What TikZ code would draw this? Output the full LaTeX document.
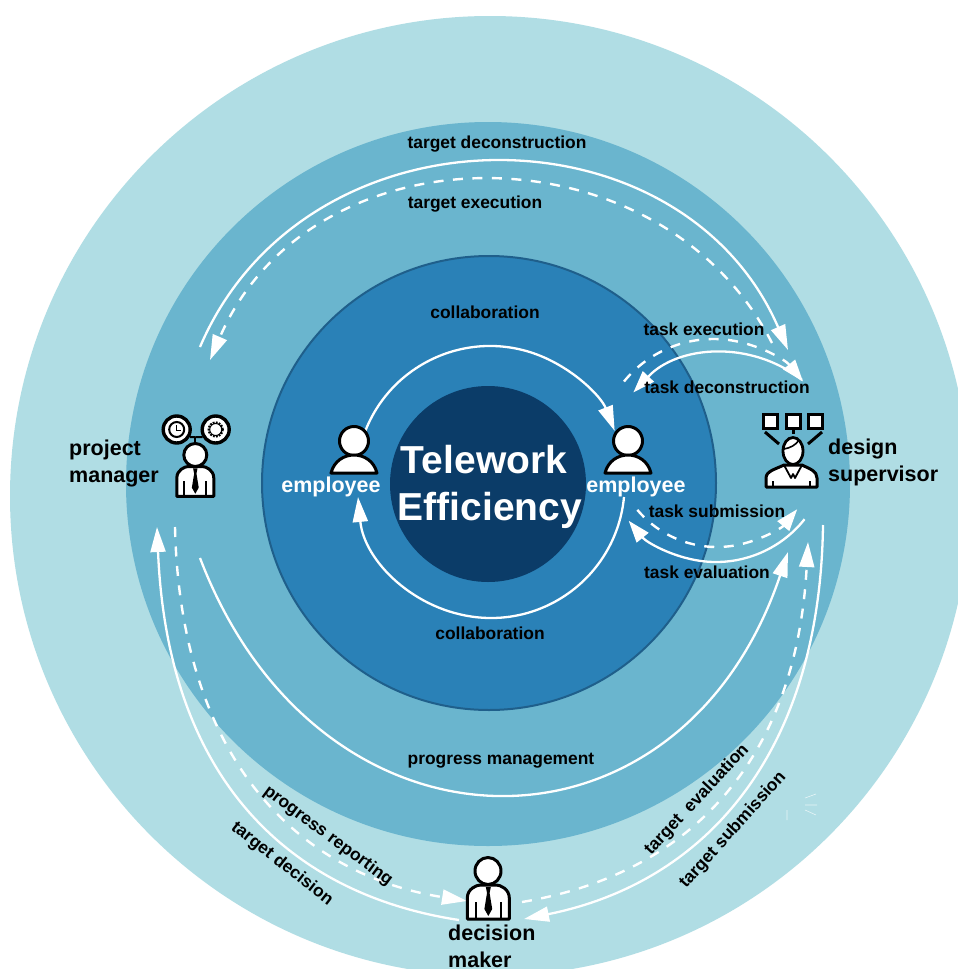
\documentclass[tikz,border=0pt]{standalone}
\usepackage{fontspec}
\setmainfont{Liberation Sans}
\usetikzlibrary{arrows.meta,shapes.geometric}
\definecolor{ringa}{HTML}{B0DDE4}
\definecolor{ringb}{HTML}{6AB5CE}
\definecolor{ringc}{HTML}{2A81B7}
\definecolor{ringedge}{HTML}{1F5F8B}
\definecolor{ringd}{HTML}{0B3C68}
\tikzset{
  solidflow/.style={draw=white,line width=2.3pt,-{Triangle[length=25pt,width=15pt,fill=white]}},
  dashflow/.style={draw=white,line width=2.4pt,dash pattern=on 10pt off 9.5pt,-{Triangle[length=25pt,width=15pt,fill=white]}},
  dashshort/.style={draw=white,line width=2.4pt,dash pattern=on 10pt off 9.5pt,-{Triangle[length=22pt,width=15pt,fill=white]}},
  solidshort/.style={draw=white,line width=2.3pt,-{Triangle[length=22pt,width=15pt,fill=white]}},
  smalllabel/.style={font=\bfseries\fontsize{17.4}{20}\selectfont,text=black,inner sep=0pt},
  rolelabel/.style={font=\bfseries\fontsize{21.5}{27}\selectfont,text=black,inner sep=0pt,align=left},
  whitelabel/.style={font=\bfseries\fontsize{21.5}{27}\selectfont,text=white,inner sep=0pt},
  titlelabel/.style={font=\bfseries\fontsize{39}{46}\selectfont,text=white,inner sep=0pt},
  iconfill/.style={draw=black,fill=white,line width=3pt,line join=round},
  iconstroke/.style={draw=black,line width=3pt},
  sparkle/.style={draw=white,line width=0.6pt,opacity=0.7},
}
% name, cx, cy, R, start angle, end angle, style
\newcommand{\ringarc}[7]{%
  \coordinate (#1) at ({#2+#4*cos(#5)},{#3-#4*sin(#5)});
  \draw[#7] (#1) arc[start angle=#5,end angle=#6,radius=#4pt];
}
\newcommand{\employeeicon}[3]{% name, x, y of head centre
  \begin{scope}[shift={(#2,#3)}]
    \node[circle,iconfill,minimum size=29pt,inner sep=0pt] (#1) at (0,0) {};
    \draw[iconfill] (-23,32) .. controls (-20,20) and (-10,14) .. (0,14) .. controls (10,14) and (20,20) .. (23,32) -- cycle;
  \end{scope}
}
\newcommand{\suitbody}{%
  \draw[iconfill] (-21,34) -- (-21,13) .. controls (-21,4) and (-12,0) .. (-8,0) -- (8,0) .. controls (12,0) and (21,4) .. (21,13) -- (21,34) -- cycle;
  \fill[black] (-2.5,2) -- (2.5,2) -- (1.3,8) -- (3.9,24) -- (0,31) -- (-3.9,24) -- (-1.3,8) -- cycle;
  \draw[black,line width=2pt] (-12.5,17) -- (-12.5,34) (12.5,17) -- (12.5,34);
}
\begin{document}
\begin{tikzpicture}[x=1pt,y=-1pt]
\useasboundingbox (0,0) rectangle (958,969);
\fill[white] (0,0) rectangle (958,969);
\begin{scope}
\clip (0,0) rectangle (958,969);
\fill[ringa] (490,496) circle[radius=480pt];
\end{scope}
\fill[ringb] (488,484) circle[radius=362pt];
\draw[ringedge,line width=2pt,fill=ringc] (489,483) circle[radius=227pt];
\fill[ringd] (488,484) circle[radius=98pt];

% faint marks in the outer ring
\coordinate (sp0) at (805,798); \coordinate (sp1) at (816,794);
\coordinate (sp2) at (805,805); \coordinate (sp3) at (817,805);
\coordinate (sp4) at (805,810); \coordinate (sp5) at (816,815);
\coordinate (sp6) at (787,810); \coordinate (sp7) at (787,820);
\draw[sparkle] (sp0) -- (sp1) (sp2) -- (sp3) (sp4) -- (sp5) (sp6) -- (sp7);

% target deconstruction
\coordinate (tdA) at (200,347); \coordinate (tdB) at (788,350);
\draw[solidflow] (tdA) .. controls (305,101) and (680,101) .. (tdB);
% target execution
\coordinate (teA) at (772,343); \coordinate (teB) at (210,360);
\draw[dashflow] (teA) .. controls (660,124) and (312,124) .. (teB);
% progress management
\coordinate (pmS) at (200,558); \coordinate (pmE) at (788,552);
\draw[solidflow] (pmS) .. controls (320,872) and (680,873) .. (pmE);
% target decision
\coordinate (tdS) at (459,920); \coordinate (tdE) at (157,527);
\draw[solidflow] (tdS) .. controls (300,896) and (168,790) .. (tdE);
% progress reporting
\coordinate (prS) at (175,527); \coordinate (prE) at (467,901);
\draw[dashflow] (prS) .. controls (180,750) and (290,873) .. (prE);
% target submission
\coordinate (tsS) at (823,525); \coordinate (tsE) at (524,919);
\draw[solidflow] (tsS) .. controls (820,755) and (704,883) .. (tsE);
% target evaluation
\coordinate (tvS) at (522,902); \coordinate (tvE) at (808,542);
\draw[dashflow] (tvS) .. controls (700,872) and (797,750) .. (tvE);
% task arcs
\ringarc{txA}{713.5}{454.5}{115.5}{140.8}{39.2}{dashshort}
\ringarc{tcA}{724.5}{478}{125}{51.7}{136.8}{solidshort}
\ringarc{tbA}{717}{443}{104}{220}{320.5}{dashshort}
\ringarc{tvA}{716}{449}{113}{321.6}{219.4}{solidshort}
% collaboration arcs
\ringarc{coA}{490}{480}{134}{158.5}{21.5}{solidflow}
\ringarc{coB}{491}{484.4}{133.6}{-5.4}{-174.6}{solidflow}

% labels
\node[smalllabel] (l1) at (497,144) {target deconstruction};
\node[smalllabel] (l2) at (475,204) {target execution};
\node[smalllabel] (l3) at (485,312) {collaboration};
\node[smalllabel] (l4) at (490,633) {collaboration};
\node[smalllabel] (l5) at (704,329) {task execution};
\node[smalllabel] (l6) at (727,387) {task deconstruction};
\node[smalllabel] (l7) at (717,511) {task submission};
\node[smalllabel] (l8) at (707,572) {task evaluation};
\node[smalllabel] (l9) at (501,761) {progress management};
\node[smalllabel,rotate=-36.5] (l10) at (328,836) {progress reporting};
\node[smalllabel,rotate=-38] (l11) at (282,864) {target decision};
\node[smalllabel,rotate=47] (l12) at (697,800) {target\ \ evaluation};
\node[smalllabel,rotate=48] (l13) at (733,830) {target submission};

\node[titlelabel] (t1) at (484,460) {Telework};
\node[titlelabel] (t2) at (490,510) {Efficiency};
\node[whitelabel] (e1) at (331,487) {employee};
\node[whitelabel] (e2) at (636,487) {employee};
\node[rolelabel,anchor=west] (r1) at (69,463) {project\\manager};
\node[rolelabel,anchor=west] (r2) at (828,462) {design\\supervisor};
\node[rolelabel,anchor=west] (r3) at (448,946) {decision\\maker};

% employees
\employeeicon{empL}{354}{441}
\employeeicon{empR}{628}{441}

% project manager
\begin{scope}[shift={(195.3,466.5)},scale=0.88]
  \suitbody
\end{scope}
\node[circle,iconfill,minimum size=23pt,inner sep=0pt] (pmhead) at (195.3,455) {};
\node[circle,draw=black,fill=white,line width=3.4pt,minimum size=27pt,inner sep=0pt] (clock) at (176.7,429.5) {};
\node[circle,draw=black,fill=white,line width=3.4pt,minimum size=27pt,inner sep=0pt] (gear) at (215.7,429.5) {};
\draw[black,line width=2pt] (clock) circle[radius=7.5pt];
\draw[black,line width=1.2pt] (176.7,425) -- (176.7,430.5) -- (181,430.5);
\draw[black,line width=2.2pt,dash pattern=on 1.8pt off 1.2pt] (gear) circle[radius=7pt];
\draw[black,line width=1pt] (gear) circle[radius=6pt];
\coordinate (pmfork) at (195.3,437);
\draw[black,line width=2pt] (pmhead.north) -- (pmfork);
\draw[black,line width=2pt] (pmfork) -- (clock.-30);
\draw[black,line width=2pt] (pmfork) -- (gear.210);

% design supervisor
\foreach \n/\xx in {sa/770.5,sb/793.2,sc/815.5}{
  \node[draw=black,fill=white,line width=3pt,minimum size=14pt,inner sep=0pt] (\n) at (\xx,421) {};
}
\coordinate (sc0) at (793.2,434);
\coordinate (sl0) at (765,432); \coordinate (sl) at (779,444);
\coordinate (sr0) at (822,432); \coordinate (sr) at (808,444);
\draw[iconstroke] (sb.south) -- (sc0);
\draw[iconstroke] (sl0) -- (sl);
\draw[iconstroke] (sr0) -- (sr);
\draw[iconfill] (766,487) -- (766,478) .. controls (766,471) and (776,469) .. (784,465) -- (802,465) .. controls (810,469) and (817,471) .. (817,478) -- (817,487) -- cycle;
\draw[black,line width=1.8pt,line join=round] (784,465) -- (791,478) -- (793,474) -- (795,478) -- (802,465);
\draw[black,line width=1.8pt] (773,487) -- (773,481) (810,487) -- (810,481);
\node[ellipse,draw=black,fill=white,line width=2.8pt,minimum width=20pt,minimum height=27pt,inner sep=0pt] (shead) at (793,451) {};
\draw[black,line width=1.6pt] (784,449) .. controls (790,448) and (796,445) .. (799,440);

% decision maker
\begin{scope}[shift={(488.3,885)}]
  \suitbody
\end{scope}
\node[ellipse,iconfill,minimum width=26pt,minimum height=27pt,inner sep=0pt] (dmhead) at (488,871) {};
\end{tikzpicture}
\end{document}
